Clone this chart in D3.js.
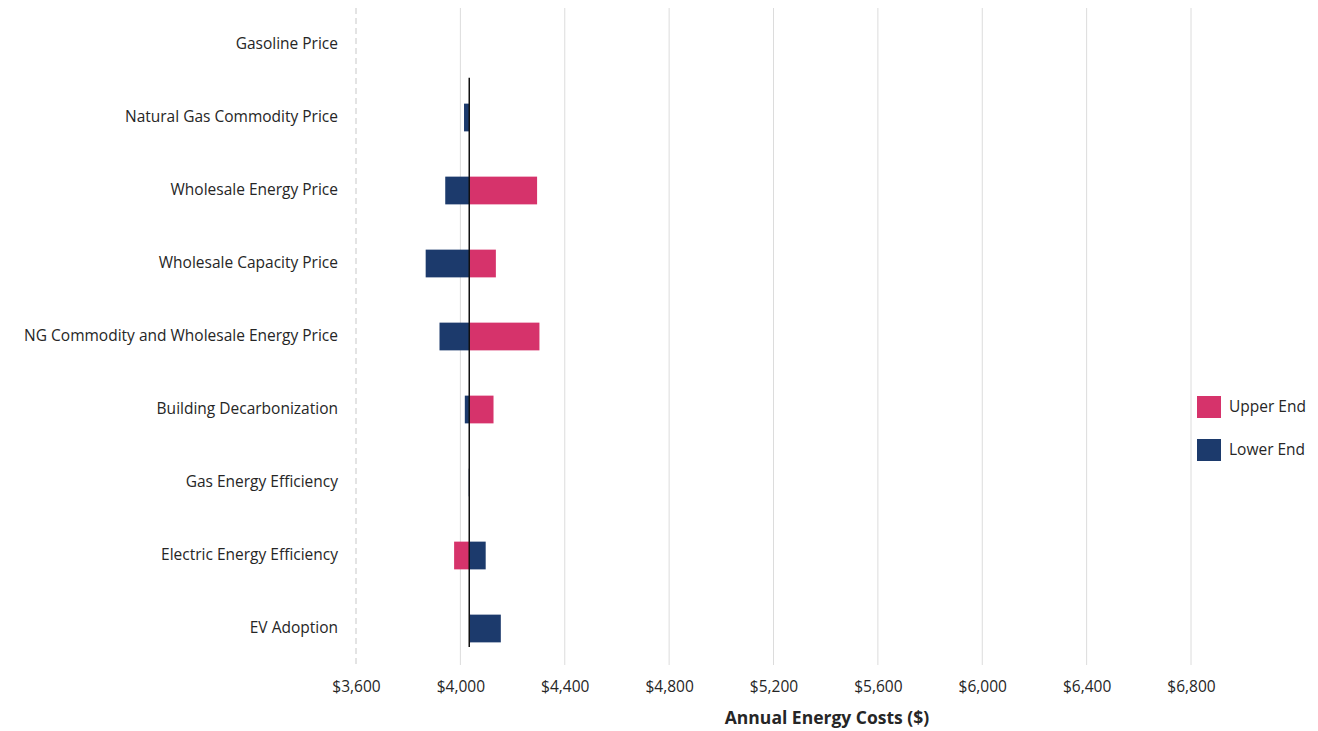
<!DOCTYPE html>
<html>
<head>
<meta charset="utf-8">
<script src="https://cdn.jsdelivr.net/npm/d3@7"></script>
<style>
  body { margin: 0; background: #fff; }
  text { font-family: "Open Sans", Lato, sans-serif; fill: #262626; }
</style>
</head>
<body>
<div id="viz"></div>
<script>
// chart data
var categories = [
  "Gasoline Price",
  "Natural Gas Commodity Price",
  "Wholesale Energy Price",
  "Wholesale Capacity Price",
  "NG Commodity and Wholesale Energy Price",
  "Building Decarbonization",
  "Gas Energy Efficiency",
  "Electric Energy Efficiency",
  "EV Adoption"
];
var baseCost = 4034;
var upperEnd = [4034, 4034, 4294, 4136, 4303, 4127, 4036, 3976, 4038];
var lowerEnd = [4034, 4014, 3942, 3867, 3920, 4017, 4032, 4097, 4155];
var tickVals = [3600, 4000, 4400, 4800, 5200, 5600, 6000, 6400, 6800];
var seriesNames = ["Upper End", "Lower End"];
var seriesColors = ["#d6336b", "#1c3a6c"];

var width = 1318, height = 731;
var plotLeft = 356, plotRight = 1191, plotTop = 8, plotBottom = 665;

var svg = d3.select("#viz").append("svg")
  .attr("width", width)
  .attr("height", height);

var x = d3.scaleLinear().domain([3600, 6800]).range([plotLeft, plotRight]);
var y = d3.scaleBand().domain(categories).range([plotTop, plotBottom])
  .paddingInner(0.62).paddingOuter(0.31);

// gridlines
svg.append("g").selectAll("line")
  .data(tickVals)
  .enter()
  .append("line")
  .attr("x1", function(d) { return x(d); })
  .attr("x2", function(d) { return x(d); })
  .attr("y1", plotTop)
  .attr("y2", plotBottom)
  .attr("stroke", function(d, i) { return i === 0 ? "#c8c8c8" : "#dcdcdc"; })
  .attr("stroke-dasharray", function(d, i) { return i === 0 ? "6,4" : null; })
  .attr("stroke-width", 1);

// x axis labels
var xAxis = d3.axisBottom(x)
  .tickValues(tickVals)
  .tickSize(0)
  .tickPadding(0)
  .tickFormat(function(d) { return "$" + d3.format(",")(d); });

var ax = svg.append("g")
  .attr("transform", "translate(0," + (plotBottom + 16) + ")")
  .call(xAxis);
ax.select(".domain").remove();
ax.selectAll("text")
  .attr("font-size", "15.5px")
  .attr("font-family", "'Open Sans', sans-serif")
  .attr("fill", "#262626");

// category labels
var yAxis = d3.axisLeft(y).tickSize(0).tickPadding(0);
var ay = svg.append("g")
  .attr("transform", "translate(338,0)")
  .call(yAxis);
ay.select(".domain").remove();
ay.selectAll("text")
  .attr("font-size", "15.5px")
  .attr("font-family", "'Open Sans', sans-serif")
  .attr("fill", "#262626");

// bars
var rows = categories.map(function(c, i) {
  return { cat: c, upper: upperEnd[i], lower: lowerEnd[i] };
});

var barG = svg.append("g");
barG.selectAll("rect.upper")
  .data(rows)
  .enter()
  .append("rect")
  .attr("class", "upper")
  .attr("x", function(d) { return x(Math.min(d.upper, baseCost)); })
  .attr("width", function(d) { return Math.abs(x(d.upper) - x(baseCost)); })
  .attr("y", function(d) { return y(d.cat); })
  .attr("height", y.bandwidth())
  .attr("fill", seriesColors[0]);

barG.selectAll("rect.lower")
  .data(rows)
  .enter()
  .append("rect")
  .attr("class", "lower")
  .attr("x", function(d) { return x(Math.min(d.lower, baseCost)); })
  .attr("width", function(d) { return Math.abs(x(d.lower) - x(baseCost)); })
  .attr("y", function(d) { return y(d.cat); })
  .attr("height", y.bandwidth())
  .attr("fill", seriesColors[1]);

// base line
svg.append("line")
  .attr("x1", x(baseCost))
  .attr("x2", x(baseCost))
  .attr("y1", y(categories[1]) - 26)
  .attr("y2", plotBottom - 18)
  .attr("stroke", "#111")
  .attr("stroke-width", 1.5);

// axis title
svg.append("text")
  .attr("x", 827)
  .attr("y", 724)
  .attr("text-anchor", "middle")
  .attr("font-size", "17.5px")
  .attr("font-weight", "bold")
  .attr("fill", "#1a1a1a")
  .text("Annual Energy Costs ($)");

// legend
var legend = svg.append("g").attr("transform", "translate(1197,396)");
var items = legend.selectAll("g")
  .data(seriesNames)
  .enter()
  .append("g")
  .attr("transform", function(d, i) { return "translate(0," + (i * 43) + ")"; });
items.append("rect")
  .attr("width", 24)
  .attr("height", 22)
  .attr("fill", function(d, i) { return seriesColors[i]; });
items.append("text")
  .attr("x", 32)
  .attr("y", 16)
  .attr("font-size", "15.5px")
  .text(function(d) { return d; });
</script>
</body>
</html>
